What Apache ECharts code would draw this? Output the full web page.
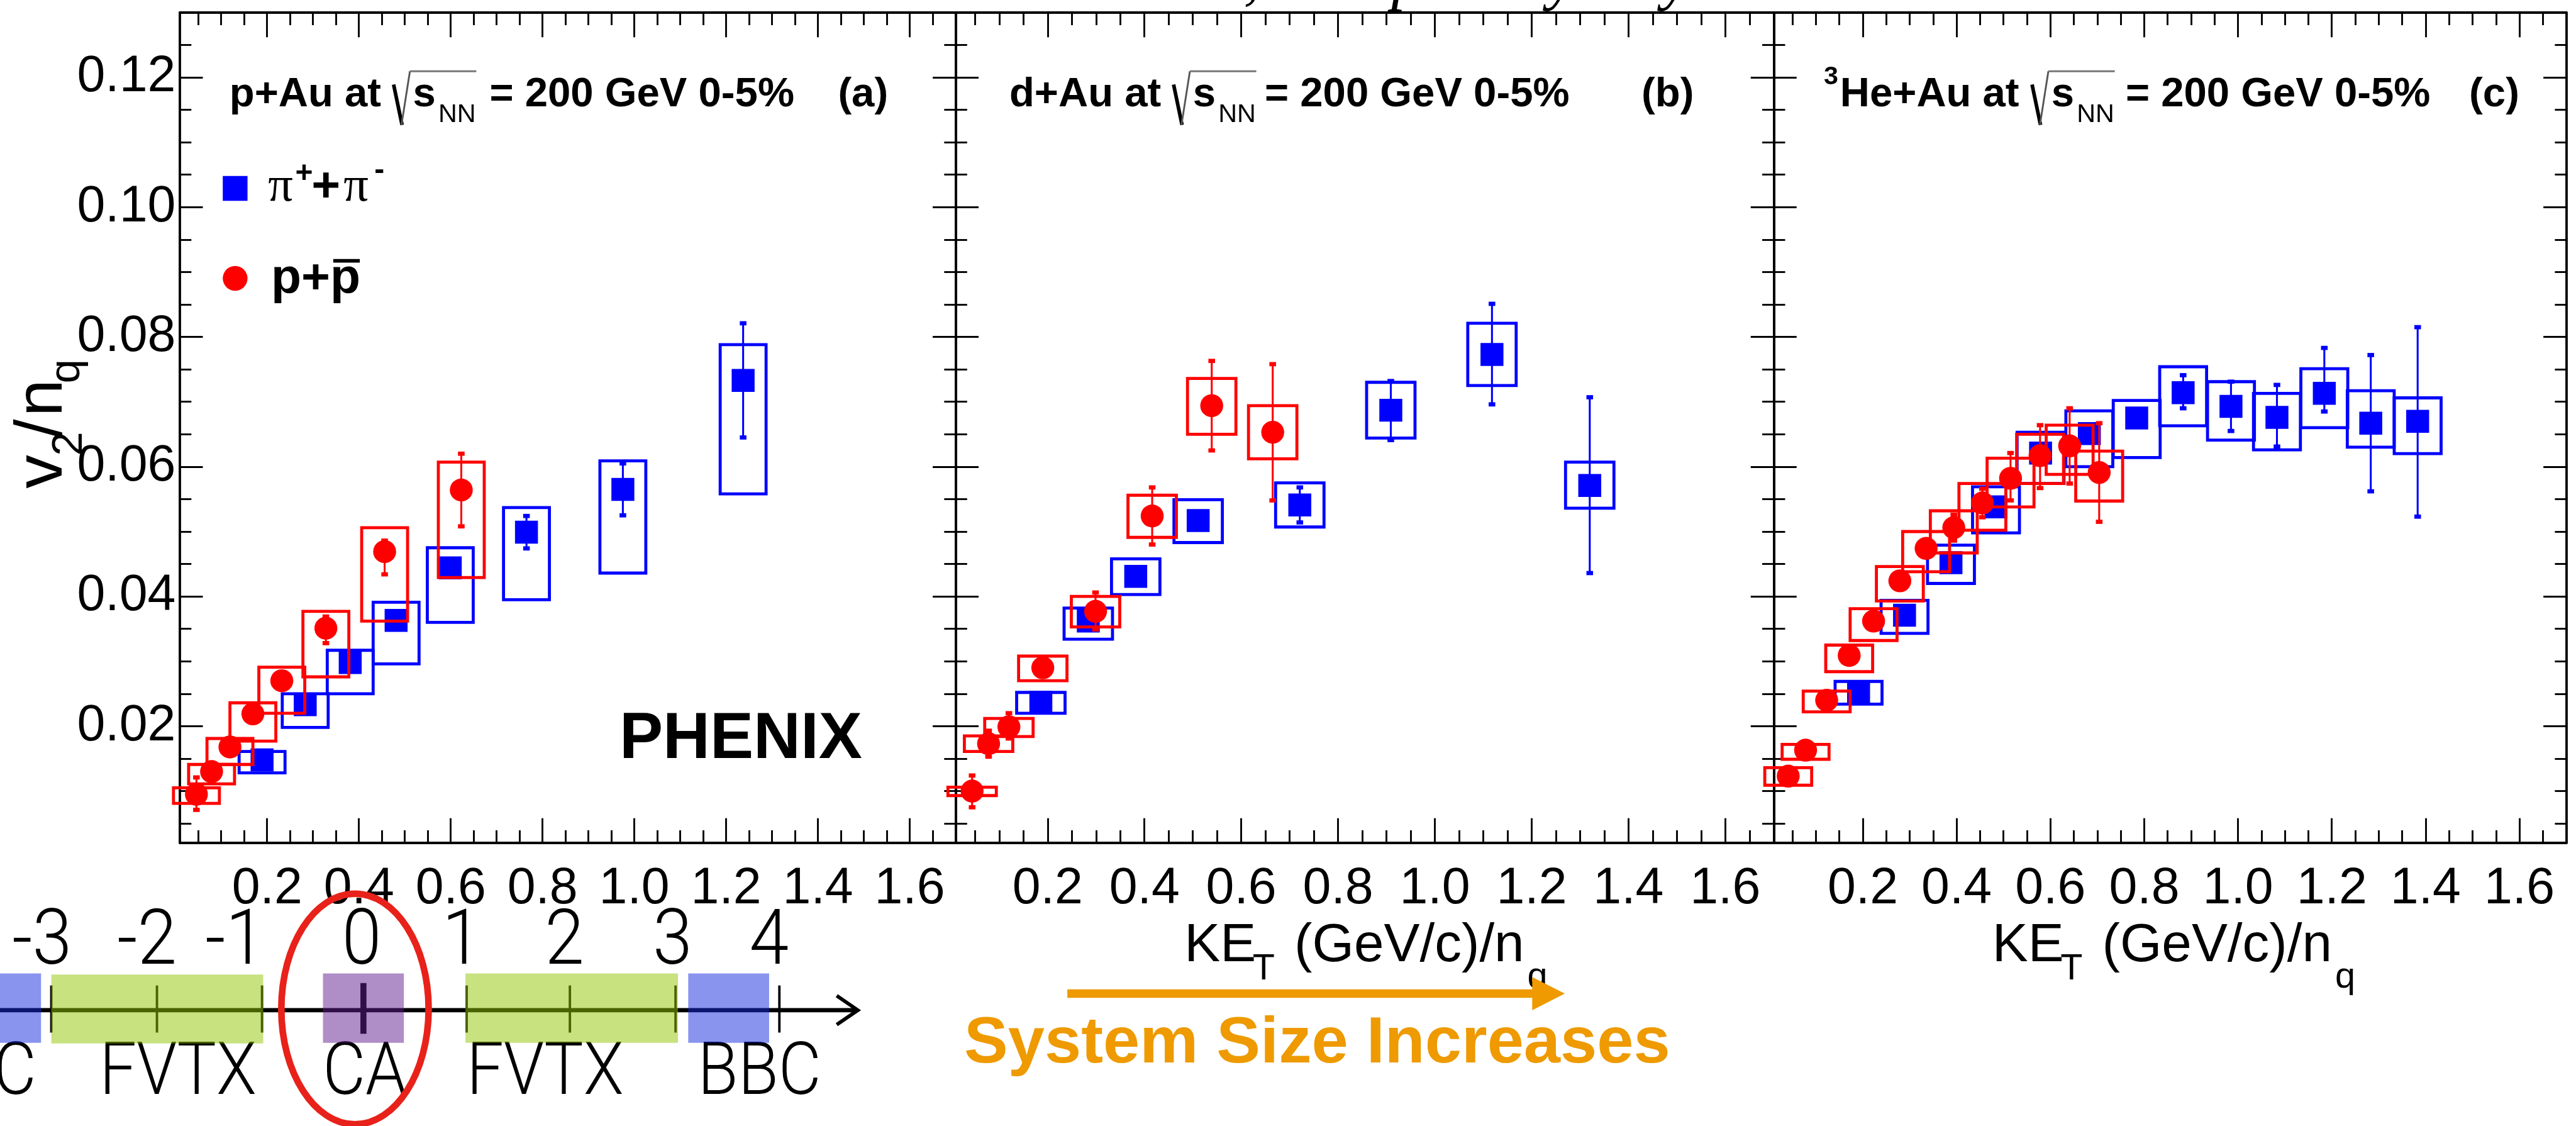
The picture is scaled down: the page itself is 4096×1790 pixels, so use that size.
<!DOCTYPE html>
<html><head><meta charset="utf-8">
<script src="https://cdn.jsdelivr.net/npm/echarts@6/dist/echarts.min.js"></script>
<style>html,body{margin:0;padding:0;background:#fff;}#c{width:4096px;height:1790px;}</style>
</head><body><div id="c"></div>
<script>
const S = 4096 / 4267;

// ---------------- axis ranges and tick labels ----------------
const X_MIN = 0.01, X_MAX = 1.70, Y_MIN = 0.002, Y_MAX = 0.13;
const X_MAJOR = [0.2, 0.4, 0.6, 0.8, 1.0, 1.2, 1.4, 1.6];
const X_MINOR = [0.05, 0.1, 0.15, 0.25, 0.3, 0.35, 0.45, 0.5, 0.55, 0.65, 0.7, 0.75, 0.85, 0.9, 0.95,
                 1.05, 1.1, 1.15, 1.25, 1.3, 1.35, 1.45, 1.5, 1.55, 1.65];
const Y_MAJOR = [0.02, 0.04, 0.06, 0.08, 0.10, 0.12];
const Y_MINOR = [0.005, 0.01, 0.015, 0.025, 0.03, 0.035, 0.045, 0.05, 0.055, 0.065, 0.07, 0.075,
                 0.085, 0.09, 0.095, 0.105, 0.11, 0.115, 0.125];
const BOX_HALF_W = 0.05;

// ---------------- panel (a) p+Au ----------------
const A_PI_X = [0.189, 0.283, 0.381, 0.481, 0.599, 0.765, 0.975, 1.237];
const A_PI_Y = [0.0148, 0.0233, 0.0298, 0.0363, 0.0444, 0.0499, 0.0565, 0.0733];
const A_PI_STAT_LO = [0.0143, 0.0228, 0.0293, 0.0358, 0.0439, 0.0474, 0.0525, 0.0645];
const A_PI_STAT_HI = [0.0153, 0.0238, 0.0303, 0.0368, 0.0449, 0.0524, 0.0605, 0.0821];
const A_PI_SYS_LO = [0.0128, 0.0198, 0.0250, 0.0296, 0.0360, 0.0395, 0.0436, 0.0558];
const A_PI_SYS_HI = [0.0161, 0.0250, 0.0317, 0.0391, 0.0475, 0.0537, 0.0609, 0.0788];

const A_P_X = [0.046, 0.079, 0.119, 0.169, 0.232, 0.328, 0.456, 0.623];
const A_P_Y = [0.0095, 0.0130, 0.0168, 0.0219, 0.0270, 0.0351, 0.0469, 0.0564];
const A_P_STAT_LO = [0.0071, 0.0124, 0.0162, 0.0212, 0.0263, 0.0328, 0.0434, 0.0508];
const A_P_STAT_HI = [0.0121, 0.0136, 0.0174, 0.0226, 0.0277, 0.0369, 0.0486, 0.0620];
const A_P_SYS_LO = [0.0081, 0.0111, 0.0141, 0.0177, 0.0220, 0.0276, 0.0362, 0.0429];
const A_P_SYS_HI = [0.0105, 0.0141, 0.0181, 0.0236, 0.0291, 0.0377, 0.0506, 0.0607];

// ---------------- panel (b) d+Au ----------------
const B_PI_X = [0.186, 0.284, 0.382, 0.511, 0.721, 0.909, 1.118, 1.320];
const B_PI_Y = [0.0237, 0.0362, 0.0431, 0.0517, 0.0541, 0.0687, 0.0773, 0.0571];
const B_PI_STAT_LO = [0.0232, 0.0357, 0.0426, 0.0512, 0.0514, 0.0641, 0.0696, 0.0436];
const B_PI_STAT_HI = [0.0242, 0.0367, 0.0436, 0.0522, 0.0568, 0.0732, 0.0851, 0.0707];
const B_PI_SYS_LO = [0.0220, 0.0334, 0.0403, 0.0483, 0.0507, 0.0644, 0.0725, 0.0536];
const B_PI_SYS_HI = [0.0252, 0.0382, 0.0458, 0.0549, 0.0575, 0.0730, 0.0821, 0.0607];

const B_P_X = [0.044, 0.078, 0.120, 0.190, 0.299, 0.416, 0.539, 0.665];
const B_P_Y = [0.0100, 0.0173, 0.0199, 0.0290, 0.0377, 0.0524, 0.0694, 0.0653];
const B_P_STAT_LO = [0.0075, 0.0153, 0.0181, 0.0282, 0.0349, 0.0480, 0.0625, 0.0548];
const B_P_STAT_HI = [0.0124, 0.0193, 0.0220, 0.0298, 0.0406, 0.0568, 0.0763, 0.0758];
const B_P_SYS_LO = [0.0093, 0.0161, 0.0184, 0.0270, 0.0353, 0.0491, 0.0650, 0.0612];
const B_P_SYS_HI = [0.0106, 0.0185, 0.0212, 0.0308, 0.0400, 0.0556, 0.0736, 0.0694];

// ---------------- panel (c) 3He+Au ----------------
const C_PI_X = [0.191, 0.289, 0.388, 0.484, 0.579, 0.683, 0.784, 0.883, 0.985, 1.083, 1.184, 1.283, 1.383];
const C_PI_Y = [0.0252, 0.0371, 0.0452, 0.0538, 0.0621, 0.0651, 0.0675, 0.0714, 0.0693, 0.0676, 0.0713, 0.0667, 0.0670];
const C_PI_STAT_LO = [0.0247, 0.0366, 0.0447, 0.0533, 0.0616, 0.0646, 0.0670, 0.0690, 0.0655, 0.0631, 0.0685, 0.0562, 0.0523];
const C_PI_STAT_HI = [0.0257, 0.0376, 0.0457, 0.0543, 0.0626, 0.0656, 0.0680, 0.0741, 0.0731, 0.0726, 0.0783, 0.0772, 0.0815];
const C_PI_SYS_LO = [0.0234, 0.0343, 0.0420, 0.0498, 0.0574, 0.0600, 0.0614, 0.0663, 0.0641, 0.0626, 0.0660, 0.0630, 0.0620];
const C_PI_SYS_HI = [0.0269, 0.0394, 0.0479, 0.0569, 0.0653, 0.0686, 0.0702, 0.0754, 0.0731, 0.0713, 0.0751, 0.0717, 0.0706];

const C_P_X = [0.041, 0.078, 0.123, 0.171, 0.223, 0.279, 0.335, 0.394, 0.455, 0.515, 0.578, 0.641, 0.704];
const C_P_Y = [0.0123, 0.0163, 0.0240, 0.0309, 0.0362, 0.0424, 0.0474, 0.0506, 0.0544, 0.0582, 0.0617, 0.0632, 0.0591];
const C_P_STAT_LO = [0.0117, 0.0157, 0.0234, 0.0303, 0.0356, 0.0418, 0.0467, 0.0486, 0.0522, 0.0548, 0.0567, 0.0574, 0.0515];
const C_P_STAT_HI = [0.0129, 0.0169, 0.0246, 0.0315, 0.0368, 0.0430, 0.0481, 0.0526, 0.0566, 0.0621, 0.0664, 0.0690, 0.0667];
const C_P_SYS_LO = [0.0109, 0.0149, 0.0222, 0.0284, 0.0332, 0.0393, 0.0438, 0.0467, 0.0502, 0.0538, 0.0574, 0.0588, 0.0547];
const C_P_SYS_HI = [0.0136, 0.0172, 0.0254, 0.0325, 0.0381, 0.0446, 0.0500, 0.0532, 0.0574, 0.0613, 0.0650, 0.0664, 0.0624];

// ---------------- texts ----------------
const PANEL_SYSTEMS = ['p+Au at', 'd+Au at', 'He+Au at'];
const PANEL_TAGS = ['(a)', '(b)', '(c)'];
const ENERGY_TEXT = '= 200 GeV 0-5%';
const DETECTOR_ETA = ['-3', '-2', '-1', '0', '1', '2', '3', '4'];
const DETECTOR_NAMES = ['BBC', 'FVTX', 'CA', 'FVTX', 'BBC'];

// ================= build chart =================
const BLUE = '#0000ff', RED = '#ff0000', ORANGE = '#EE9A00';
const FONT = 'Liberation Sans';
const PANEL_PX = [[298, 1583], [1583, 2938], [2938, 4251]];
const TOP = 20.7, BOTTOM = 1396;

const panels = [
  { pi: [A_PI_X, A_PI_Y, A_PI_STAT_LO, A_PI_STAT_HI, A_PI_SYS_LO, A_PI_SYS_HI],
    p:  [A_P_X, A_P_Y, A_P_STAT_LO, A_P_STAT_HI, A_P_SYS_LO, A_P_SYS_HI] },
  { pi: [B_PI_X, B_PI_Y, B_PI_STAT_LO, B_PI_STAT_HI, B_PI_SYS_LO, B_PI_SYS_HI],
    p:  [B_P_X, B_P_Y, B_P_STAT_LO, B_P_STAT_HI, B_P_SYS_LO, B_P_SYS_HI] },
  { pi: [C_PI_X, C_PI_Y, C_PI_STAT_LO, C_PI_STAT_HI, C_PI_SYS_LO, C_PI_SYS_HI],
    p:  [C_P_X, C_P_Y, C_P_STAT_LO, C_P_STAT_HI, C_P_SYS_LO, C_P_SYS_HI] }
];

function xAx(g, pos, ticks, len, labels, line) {
  return { type: 'value', gridIndex: g, position: pos, min: X_MIN, max: X_MAX,
    axisLine: { show: line, onZero: false, lineStyle: { color: '#000', width: 4 * S } },
    axisTick: { show: true, inside: true, length: len * S, customValues: ticks, lineStyle: { color: '#000', width: 3 * S } },
    axisLabel: { show: labels, customValues: ticks, formatter: v => v.toFixed(1), fontFamily: FONT,
      fontSize: 84 * S, color: '#000', margin: 35 * S },
    splitLine: { show: false }, minorTick: { show: false } };
}
function yAx(g, pos, ticks, len, labels, line) {
  return { type: 'value', gridIndex: g, position: pos, min: Y_MIN, max: Y_MAX,
    axisLine: { show: line, onZero: false, lineStyle: { color: '#000', width: 4 * S } },
    axisTick: { show: true, inside: true, length: len * S, customValues: ticks, lineStyle: { color: '#000', width: 3 * S } },
    axisLabel: { show: labels, customValues: ticks, formatter: v => v.toFixed(2), fontFamily: FONT,
      fontSize: 84 * S, color: '#000', margin: 7 * S },
    splitLine: { show: false }, minorTick: { show: false } };
}

const grids = [], xAxes = [], yAxes = [], series = [];
PANEL_PX.forEach(([l, r], g) => {
  grids.push({ left: l * S, top: TOP * S, width: (r - l) * S, height: (BOTTOM - TOP) * S, containLabel: false });
  xAxes.push(xAx(g, 'bottom', X_MAJOR, 41, true, true));
  xAxes.push(xAx(g, 'bottom', X_MINOR, 21, false, false));
  xAxes.push(xAx(g, 'top', X_MAJOR, 41, false, true));
  xAxes.push(xAx(g, 'top', X_MINOR, 21, false, false));
  yAxes.push(yAx(g, 'left', Y_MAJOR, 38, g === 0, true));
  yAxes.push(yAx(g, 'left', Y_MINOR, 19, false, false));
  yAxes.push(yAx(g, 'right', Y_MAJOR, 38, false, true));
  yAxes.push(yAx(g, 'right', Y_MINOR, 19, false, false));
});

function toData(arr) {
  const [X, Y, SL, SH, YL, YH] = arr;
  return X.map((x, i) => [x, Y[i], SL[i], SH[i], YL[i], YH[i]]);
}
function boxSeries(g, arr, color) {
  return { type: 'custom', xAxisIndex: g * 4, yAxisIndex: g * 4, data: toData(arr), clip: false, silent: true,
    animation: false,
    renderItem: (p, api) => {
      const x = api.value(0);
      const a = api.coord([x - BOX_HALF_W, api.value(5)]);
      const b = api.coord([x + BOX_HALF_W, api.value(4)]);
      return { type: 'rect', shape: { x: a[0], y: a[1], width: b[0] - a[0], height: b[1] - a[1] },
        style: { fill: 'none', stroke: color, lineWidth: 5 * S } };
    } };
}
function pointSeries(g, arr, color, square) {
  return { type: 'custom', xAxisIndex: g * 4, yAxisIndex: g * 4, data: toData(arr), clip: false, silent: true,
    animation: false,
    renderItem: (p, api) => {
      const x = api.value(0);
      const c = api.coord([x, api.value(1)]);
      const lo = api.coord([x, api.value(2)]);
      const hi = api.coord([x, api.value(3)]);
      const m = 38 * S, cw = 11 * S, ch = 7 * S;
      const kids = [
        { type: 'line', shape: { x1: c[0], y1: lo[1], x2: c[0], y2: hi[1] }, style: { stroke: color, lineWidth: 3.2 * S } },
        { type: 'rect', shape: { x: c[0] - cw / 2, y: lo[1] - ch / 2, width: cw, height: ch }, style: { fill: color } },
        { type: 'rect', shape: { x: c[0] - cw / 2, y: hi[1] - ch / 2, width: cw, height: ch }, style: { fill: color } }
      ];
      if (square) kids.push({ type: 'rect', shape: { x: c[0] - m / 2, y: c[1] - m / 2, width: m, height: m }, style: { fill: color } });
      else kids.push({ type: 'circle', shape: { cx: c[0], cy: c[1], r: m / 2 }, style: { fill: color } });
      return { type: 'group', children: kids };
    } };
}
panels.forEach((pn, g) => {
  series.push(boxSeries(g, pn.pi, BLUE));
  series.push(pointSeries(g, pn.pi, BLUE, true));
  series.push(boxSeries(g, pn.p, RED));
  series.push(pointSeries(g, pn.p, RED, false));
});

// ---------------- graphic helpers (reference pixel units, scaled by group) ----------------
function T(x, base, text, size, o = {}) {
  const k = o.k != null ? o.k : 0.345;
  const sy = o.sy || 1;
  return { type: 'text', x: x, y: base - k * size * sy, scaleX: o.sx || 1, scaleY: sy, z: 100, silent: true,
    style: { x: 0, y: 0, text: text, fontFamily: o.fam || FONT, fontSize: size, fontWeight: o.w || 'normal',
      fontStyle: o.it ? 'italic' : 'normal', fill: o.c || '#000',
      align: o.al || 'left', textAlign: o.al || 'left', verticalAlign: 'middle', textVerticalAlign: 'middle' } };
}
function L(x1, y1, x2, y2, w, c) {
  return { type: 'line', z: 100, silent: true, shape: { x1, y1, x2, y2 }, style: { stroke: c || '#000', lineWidth: w, lineCap: 'butt' } };
}
function R(x, y, w, h, fill) {
  return { type: 'rect', z: 101, silent: true, shape: { x, y, width: w, height: h }, style: { fill } };
}

const els = [];
// top cut-off reference line
els.push(T(1293, 4, 'arXiv:1805.02973, accepted by Phys. Rev. C', 105, { fam: 'Liberation Serif', it: true, k: 0.338 }));

// panel titles
const TITLE_START = [380, 1672, 3048];
const RAD_X = [679, 1971, 3393];
const EQ_X = [811, 2095, 3521];
const TAG_X = [1388, 2719, 4090];
for (let i = 0; i < 3; i++) {
  els.push(T(TITLE_START[i], 181, PANEL_SYSTEMS[i], 68, { w: 'bold' }));
  const rx = RAD_X[i];
  els.push(L(rx - 27, 140, rx - 13, 207, 6));
  els.push(L(rx - 14, 207, rx, 118, 3, '#555'));
  els.push(L(rx, 118, rx + 110, 118, 3, '#777'));
  els.push(T(rx + 5, 181, 's', 68, { w: 'bold' }));
  els.push(T(rx + 47, 205, 'NN', 43));
  els.push(T(EQ_X[i], 181, ENERGY_TEXT, 68, { w: 'bold' }));
  els.push(T(TAG_X[i], 181, PANEL_TAGS[i], 68, { w: 'bold' }));
}
els.push(T(3021, 143, '3', 43, { w: 'bold' }));

// legend (panel a)
els.push({ type: 'rect', z: 100, silent: true, shape: { x: 369, y: 291.5, width: 41, height: 41 }, style: { fill: BLUE } });
els.push(T(444, 339, 'π', 82, { fam: 'Liberation Serif', k: 0.338 }));
els.push(T(489, 306, '+', 50, { w: 'bold' }));
els.push(T(516, 339, '+', 82, { w: 'bold' }));
els.push(T(569, 339, 'π', 82, { fam: 'Liberation Serif', k: 0.338 }));
els.push(T(620, 300, '-', 50, { w: 'bold' }));
els.push({ type: 'circle', z: 100, silent: true, shape: { cx: 389.5, cy: 461, r: 20.5 }, style: { fill: RED } });
els.push(T(449, 491, 'p+p', 82, { w: 'bold' }));
els.push(L(552, 432, 596, 432, 6));

// PHENIX
els.push(T(1026, 1263, 'PHENIX', 108, { w: 'bold' }));

// y-axis title (rotated)
els.push({ type: 'group', x: 110, y: 809, rotation: Math.PI / 2, z: 100, children: [
  T(0, 0, 'v', 111), T(54, 30, '2', 72), T(84, 0, '/', 111), T(119, 0, 'n', 111), T(174, 26, 'q', 72)
] });

// x-axis titles (b, c)
[1962, 3300].forEach(x0 => {
  els.push(T(x0, 1598, 'KE', 89));
  els.push(T(x0 + 113, 1626, 'T', 60));
  els.push(T(x0 + 182, 1598, '(GeV/c)/n', 89));
  els.push(T(x0 + 568, 1640, 'q', 60));
});

// detector diagram
const TICK_X = [85, 260, 434, 773, 944, 1119, 1291];
els.push(L(-10, 1673, 1418, 1673, 7));
els.push({ type: 'polyline', z: 100, silent: true, shape: { points: [[1386, 1649], [1421, 1673], [1386, 1697]] },
  style: { stroke: '#000', lineWidth: 6, fill: 'none' } });
TICK_X.forEach(x => els.push(L(x, 1632, x, 1710, 4)));
els.push(L(602, 1628, 602, 1712, 10));
els.push(R(-50, 1612, 118, 115, 'rgba(20,42,224,0.5)'));
els.push(R(85, 1614, 351, 114, 'rgba(146,198,0,0.5)'));
els.push(R(535, 1612, 134, 115, 'rgba(96,28,144,0.5)'));
els.push(R(771, 1612, 352, 115, 'rgba(146,198,0,0.5)'));
els.push(R(1140, 1612, 134, 115, 'rgba(20,42,224,0.5)'));
const ETA_X = [119, 293, 439, 599, 765, 935, 1114, 1274];
DETECTOR_ETA.forEach((t, i) => {
  els.push(T(ETA_X[i], 1608, t, 128, { fam: 'Roboto', w: 300, al: i < 3 ? 'right' : 'center', k: 0.342, sx: 0.92 }));
});
const NAME_X = [60, 295, 604, 903, 1258];
DETECTOR_NAMES.forEach((t, i) => {
  els.push(T(NAME_X[i], 1823, t, 121, { fam: 'Roboto', w: 300, al: i === 0 ? 'right' : 'center', k: 0.342, sx: 0.9 }));
});
els.push({ type: 'ellipse', z: 102, silent: true, shape: { cx: 588, cy: 1671, rx: 122, ry: 191 },
  style: { stroke: '#E8221A', lineWidth: 11, fill: 'none' } });

// system size arrow
els.push({ type: 'rect', z: 100, silent: true, shape: { x: 1768, y: 1638.5, width: 775, height: 14 }, style: { fill: ORANGE } });
els.push({ type: 'polygon', z: 100, silent: true, shape: { points: [[2538, 1618], [2592, 1645.5], [2538, 1673]] }, style: { fill: ORANGE } });
els.push(T(1597, 1767, 'System Size Increases', 109, { w: 'bold', c: ORANGE }));

const option = {
  backgroundColor: '#fff',
  animation: false,
  grid: grids, xAxis: xAxes, yAxis: yAxes, series: series,
  graphic: { elements: [{ type: 'group', x: 0, y: 0, scaleX: S, scaleY: S, z: 100, children: els }] }
};
const chart = echarts.init(document.getElementById('c'), null, { renderer: 'canvas', width: 4096, height: 1790 });
chart.setOption(option);
</script></body></html>
